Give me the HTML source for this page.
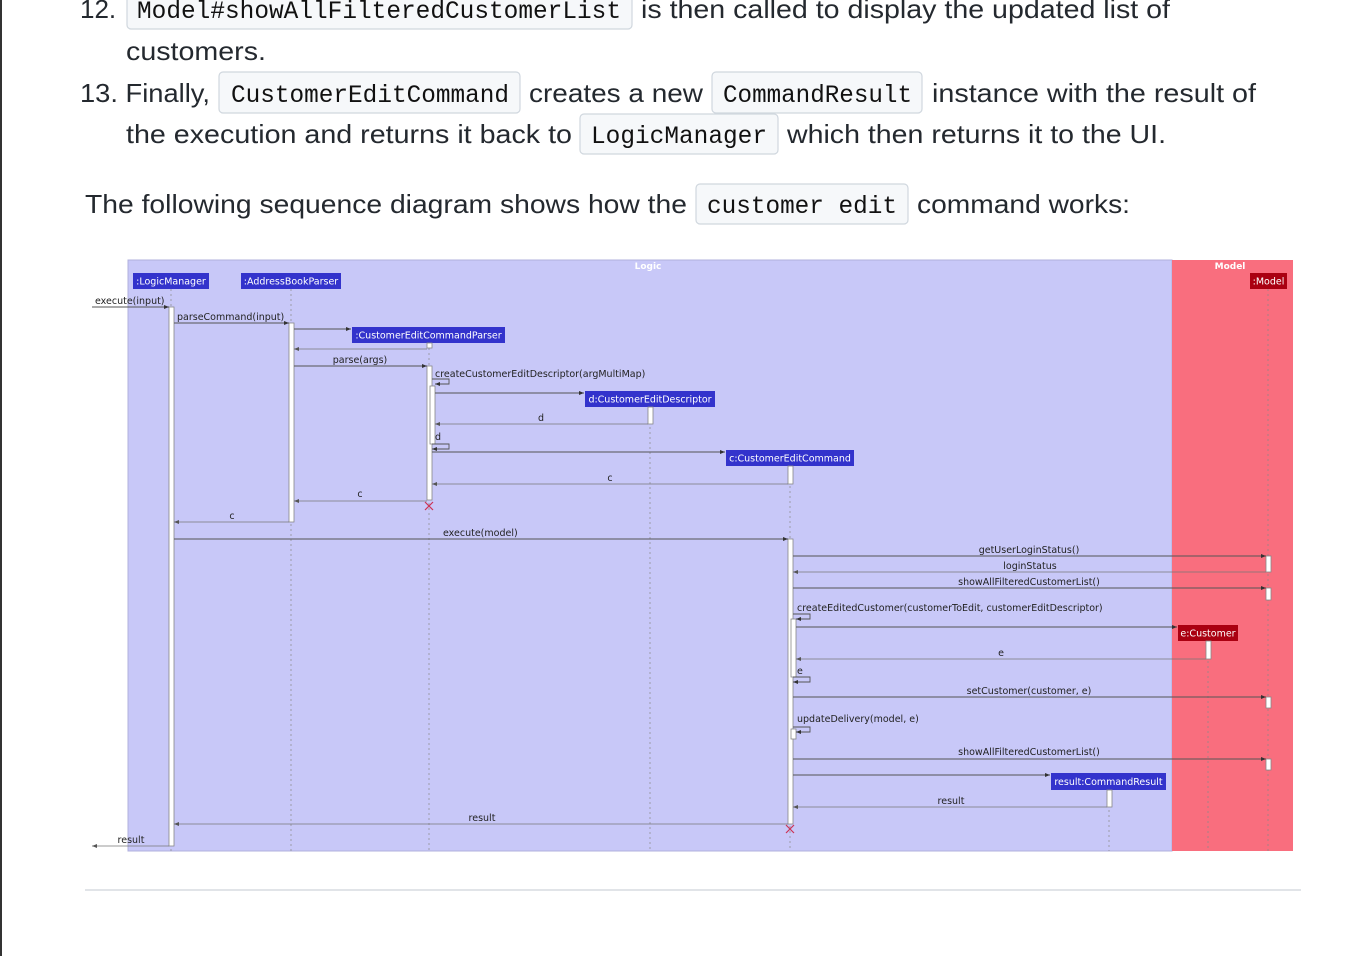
<!DOCTYPE html>
<html><head><meta charset="utf-8"><style>
html,body{margin:0;padding:0;background:#fff;}
svg{display:block;}
.t{font-family:"Liberation Sans",sans-serif;font-size:26px;fill:#24292f;}
.c{font-family:"Liberation Mono",monospace;font-size:25px;fill:#111;}
.cb{fill:#f6f8fa;stroke:#d0d7de;stroke-width:1.2;}
.s{font-family:"DejaVu Sans","Liberation Sans",sans-serif;font-size:9.5px;fill:#222;}
.w{font-family:"DejaVu Sans","Liberation Sans",sans-serif;font-size:9.5px;fill:#fff;}
.m{stroke:#555;stroke-width:0.9;fill:none;}
.r{stroke:#777;stroke-width:0.8;fill:none;}
.ll{stroke:#888;stroke-width:0.7;stroke-dasharray:2,3;}
.act{fill:#fff;stroke:#888;stroke-width:0.8;}
</style></head><body>
<svg width="1364" height="956" viewBox="0 0 1364 956">
<rect x="0" y="0" width="2" height="956" fill="#333"/>
<!-- text -->
<text class="t" x="80" y="18">12.</text>
<rect class="cb" x="127" y="-6" width="505" height="35" rx="4"/>
<text class="c" x="137" y="18" textLength="484" lengthAdjust="spacingAndGlyphs">Model#showAllFilteredCustomerList</text>
<text class="t" x="641" y="18" textLength="529" lengthAdjust="spacingAndGlyphs">is then called to display the updated list of</text>
<text class="t" x="126" y="60" textLength="140" lengthAdjust="spacingAndGlyphs">customers.</text>
<text class="t" x="80" y="102" textLength="130" lengthAdjust="spacingAndGlyphs">13. Finally,</text>
<rect class="cb" x="219" y="72" width="301" height="41" rx="4"/>
<text class="c" x="231" y="102" textLength="278" lengthAdjust="spacingAndGlyphs">CustomerEditCommand</text>
<text class="t" x="529" y="102" textLength="174" lengthAdjust="spacingAndGlyphs">creates a new</text>
<rect class="cb" x="712" y="72" width="210" height="41" rx="4"/>
<text class="c" x="723" y="102" textLength="189" lengthAdjust="spacingAndGlyphs">CommandResult</text>
<text class="t" x="932" y="102" textLength="324" lengthAdjust="spacingAndGlyphs">instance with the result of</text>
<text class="t" x="126" y="143" textLength="446" lengthAdjust="spacingAndGlyphs">the execution and returns it back to</text>
<rect class="cb" x="580" y="114" width="198" height="40" rx="4"/>
<text class="c" x="591" y="143" textLength="176" lengthAdjust="spacingAndGlyphs">LogicManager</text>
<text class="t" x="787" y="143" textLength="379" lengthAdjust="spacingAndGlyphs">which then returns it to the UI.</text>
<text class="t" x="85" y="213" textLength="602" lengthAdjust="spacingAndGlyphs">The following sequence diagram shows how the</text>
<rect class="cb" x="696" y="184" width="212" height="40" rx="4"/>
<text class="c" x="707" y="213" textLength="190" lengthAdjust="spacingAndGlyphs">customer edit</text>
<text class="t" x="917" y="213" textLength="213" lengthAdjust="spacingAndGlyphs">command works:</text>
<rect x="85" y="889" width="1216" height="2" fill="#e1e4e8"/>

<!-- diagram background -->
<rect x="128" y="260" width="1044" height="591" fill="#c8c8f8" stroke="#b0b0dd" stroke-width="1"/>
<rect x="1172" y="260" width="121" height="591" fill="#f96e7e"/>
<text class="w" x="648" y="269" text-anchor="middle" font-weight="bold" style="font-size:9px">Logic</text>
<text class="w" x="1230" y="269" text-anchor="middle" font-weight="bold" style="font-size:9px">Model</text>

<!-- lifelines -->
<line class="ll" x1="171" y1="289" x2="171" y2="851"/>
<line class="ll" x1="291" y1="289" x2="291" y2="851"/>
<line class="ll" x1="429" y1="343" x2="429" y2="851"/>
<line class="ll" x1="650" y1="407" x2="650" y2="851"/>
<line class="ll" x1="790" y1="466" x2="790" y2="851"/>
<line class="ll" x1="1109" y1="790" x2="1109" y2="851"/>
<line class="ll" x1="1208" y1="641" x2="1208" y2="851"/>
<line class="ll" x1="1268" y1="289" x2="1268" y2="851"/>

<!-- participants -->
<rect x="133" y="273" width="76" height="16" fill="#3333cc"/><text class="w" x="171" y="284.5" text-anchor="middle">:LogicManager</text>
<rect x="241" y="273" width="100" height="16" fill="#3333cc"/><text class="w" x="291" y="284.5" text-anchor="middle">:AddressBookParser</text>
<rect x="1250" y="273" width="37" height="16" fill="#aa0011"/><text class="w" x="1268.5" y="284.5" text-anchor="middle">:Model</text>
<rect x="352" y="327" width="153" height="16" fill="#3333cc"/><text class="w" x="428.5" y="338.5" text-anchor="middle">:CustomerEditCommandParser</text>
<rect x="585" y="391" width="130" height="16" fill="#3333cc"/><text class="w" x="650" y="402.5" text-anchor="middle">d:CustomerEditDescriptor</text>
<rect x="726" y="450" width="128" height="16" fill="#3333cc"/><text class="w" x="790" y="461.5" text-anchor="middle">c:CustomerEditCommand</text>
<rect x="1178" y="625" width="60" height="16" fill="#aa0011"/><text class="w" x="1208" y="636.5" text-anchor="middle">e:Customer</text>
<rect x="1051" y="773" width="115" height="17" fill="#3333cc"/><text class="w" x="1108.5" y="785" text-anchor="middle">result:CommandResult</text>

<!-- activations -->
<rect class="act" x="169" y="307" width="5" height="539"/>
<rect class="act" x="289" y="323" width="5" height="199"/>
<rect class="act" x="427" y="343" width="5" height="5"/>
<rect class="act" x="427" y="366" width="5" height="134"/>
<rect class="act" x="430" y="386" width="5" height="58"/>
<rect class="act" x="648" y="407" width="5" height="17"/>
<rect class="act" x="788" y="466" width="5" height="18"/>
<rect class="act" x="788" y="539" width="5" height="285"/>
<rect class="act" x="791" y="619" width="5" height="58"/>
<rect class="act" x="791" y="729" width="5" height="10"/>
<rect class="act" x="1266" y="556" width="5" height="16"/>
<rect class="act" x="1266" y="588" width="5" height="12"/>
<rect class="act" x="1266" y="697" width="5" height="11"/>
<rect class="act" x="1266" y="759" width="5" height="11"/>
<rect class="act" x="1206" y="641" width="5" height="18"/>
<rect class="act" x="1107" y="790" width="5" height="17"/>

<!-- messages -->
<g>
<line class="m" x1="92" y1="307" x2="169" y2="307"/><path d="M169 307l-5-2v4z" fill="#333"/>
<text class="s" x="95" y="304">execute(input)</text>
<line class="m" x1="174" y1="323" x2="289" y2="323"/><path d="M289 323l-5-2v4z" fill="#333"/>
<text class="s" x="177" y="320">parseCommand(input)</text>
<line class="m" x1="294" y1="329" x2="351" y2="329"/><path d="M351 329l-5-2v4z" fill="#333"/>
<line class="r" x1="427" y1="349" x2="294" y2="349"/><path d="M294 349l5-2v4z" fill="#555"/>
<line class="m" x1="294" y1="366" x2="427" y2="366"/><path d="M427 366l-5-2v4z" fill="#333"/>
<text class="s" x="360" y="363" text-anchor="middle">parse(args)</text>
<path class="m" d="M432 379h17v5h-14"/><path d="M435 384l5-2v4z" fill="#333"/>
<text class="s" x="435" y="377">createCustomerEditDescriptor(argMultiMap)</text>
<line class="m" x1="435" y1="393" x2="584" y2="393"/><path d="M584 393l-5-2v4z" fill="#333"/>
<line class="r" x1="648" y1="424" x2="435" y2="424"/><path d="M435 424l5-2v4z" fill="#555"/>
<text class="s" x="541" y="421" text-anchor="middle">d</text>
<path class="m" d="M432 444h17v5h-17"/><path d="M432 449l5-2v4z" fill="#333"/>
<text class="s" x="435" y="440">d</text>
<line class="m" x1="432" y1="452" x2="725" y2="452"/><path d="M725 452l-5-2v4z" fill="#333"/>
<line class="r" x1="788" y1="484" x2="432" y2="484"/><path d="M432 484l5-2v4z" fill="#555"/>
<text class="s" x="610" y="481" text-anchor="middle">c</text>
<path d="M425 502l8 8M433 502l-8 8" stroke="#cc3355" stroke-width="1.2"/>
<line class="r" x1="427" y1="501" x2="294" y2="501"/><path d="M294 501l5-2v4z" fill="#555"/>
<text class="s" x="360" y="497" text-anchor="middle">c</text>
<line class="r" x1="289" y1="522" x2="174" y2="522"/><path d="M174 522l5-2v4z" fill="#555"/>
<text class="s" x="232" y="519" text-anchor="middle">c</text>
<line class="m" x1="174" y1="539" x2="788" y2="539"/><path d="M788 539l-5-2v4z" fill="#333"/>
<text class="s" x="443" y="536">execute(model)</text>
<line class="m" x1="793" y1="556" x2="1266" y2="556"/><path d="M1266 556l-5-2v4z" fill="#333"/>
<text class="s" x="1029" y="553" text-anchor="middle">getUserLoginStatus()</text>
<line class="r" x1="1266" y1="572" x2="793" y2="572"/><path d="M793 572l5-2v4z" fill="#555"/>
<text class="s" x="1030" y="569" text-anchor="middle">loginStatus</text>
<line class="m" x1="793" y1="588" x2="1266" y2="588"/><path d="M1266 588l-5-2v4z" fill="#333"/>
<text class="s" x="1029" y="585" text-anchor="middle">showAllFilteredCustomerList()</text>
<path class="m" d="M793 614h17v5h-14"/><path d="M796 619l5-2v4z" fill="#333"/>
<text class="s" x="797" y="611">createEditedCustomer(customerToEdit, customerEditDescriptor)</text>
<line class="m" x1="796" y1="627" x2="1177" y2="627"/><path d="M1177 627l-5-2v4z" fill="#333"/>
<line class="r" x1="1206" y1="659" x2="796" y2="659"/><path d="M796 659l5-2v4z" fill="#555"/>
<text class="s" x="1001" y="656" text-anchor="middle">e</text>
<path class="m" d="M793 677h17v5h-17"/><path d="M793 682l5-2v4z" fill="#333"/>
<text class="s" x="797" y="674">e</text>
<line class="m" x1="793" y1="697" x2="1266" y2="697"/><path d="M1266 697l-5-2v4z" fill="#333"/>
<text class="s" x="1029" y="694" text-anchor="middle">setCustomer(customer, e)</text>
<path class="m" d="M793 727h17v5h-14"/><path d="M796 732l5-2v4z" fill="#333"/>
<text class="s" x="797" y="722">updateDelivery(model, e)</text>
<line class="m" x1="793" y1="759" x2="1266" y2="759"/><path d="M1266 759l-5-2v4z" fill="#333"/>
<text class="s" x="1029" y="755" text-anchor="middle">showAllFilteredCustomerList()</text>
<line class="m" x1="793" y1="775" x2="1050" y2="775"/><path d="M1050 775l-5-2v4z" fill="#333"/>
<line class="r" x1="1107" y1="807" x2="793" y2="807"/><path d="M793 807l5-2v4z" fill="#555"/>
<text class="s" x="951" y="804" text-anchor="middle">result</text>
<line class="r" x1="788" y1="824" x2="174" y2="824"/><path d="M174 824l5-2v4z" fill="#555"/>
<text class="s" x="482" y="821" text-anchor="middle">result</text>
<path d="M786 825l8 8M794 825l-8 8" stroke="#cc3355" stroke-width="1.2"/>
<line class="r" x1="169" y1="846" x2="92" y2="846"/><path d="M92 846l5-2v4z" fill="#555"/>
<text class="s" x="131" y="843" text-anchor="middle">result</text>
</g>
</svg>
</body></html>
